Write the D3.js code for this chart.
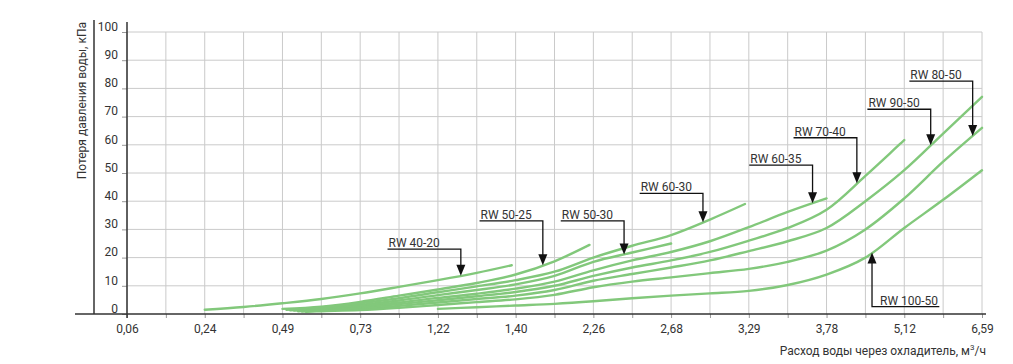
<!DOCTYPE html>
<html>
<head>
<meta charset="utf-8">
<script src="https://cdn.jsdelivr.net/npm/d3@7"></script>
<style>
    body { margin: 0; background: #fff; }
    text { font-family: Roboto, 'Open Sans', sans-serif; fill: #333; }
</style>
</head>
<body>
<div id="chart"></div>
<script>
// x positions are the slots of the (non-linear) flow axis: 0 = "0,06" ... 22 = "6,59"
const xTickLabels = ['0,06', '0,24', '0,49', '0,73', '1,22', '1,40', '2,26', '2,68', '3,29', '3,78', '5,12', '6,59'];
const yTicks = [0, 10, 20, 30, 40, 50, 60, 70, 80, 90, 100];

const rw4020 = [[2, 1.5], [3, 2.5], [4, 3.8], [5, 5.3], [6, 7.3], [7, 9.6], [8, 12], [9, 14.6], [9.9, 17.3]];
const rw5025 = [[4, 1.8], [5, 2.6], [6, 4.3], [7, 6.5], [8, 8.7], [9, 11], [10, 14], [11, 18.7], [11.9, 24.5]];
const rw5030 = [[4.2, 1.3], [5, 2], [6, 3.2], [7, 4.8], [8, 6.7], [9, 8.5], [10, 10.5], [11, 13.5], [12, 18.5], [13, 21.8], [14, 25]];
const rw6030 = [[4.1, 1.5], [5, 2.3], [6, 3.8], [7, 5.6], [8, 7.7], [9, 9.8], [10, 12], [11, 15], [12, 20], [13, 24.2], [14, 28], [15, 33.5], [15.9, 39]];
const rw6035 = [[4.3, 1.2], [5, 1.8], [6, 2.8], [7, 4.1], [8, 5.7], [9, 7.2], [10, 9], [11, 11.5], [12, 15.5], [13, 19], [14, 22], [15, 25.8], [16, 30.8], [17, 36.2], [18, 41]];
const rw7040 = [[4.4, 1], [5, 1.4], [6, 2.3], [7, 3.5], [8, 4.9], [9, 6.3], [10, 7.8], [11, 10], [12, 13.5], [13, 16.5], [14, 19], [15, 22], [16, 26], [17, 30.5], [18, 37], [19, 49], [20, 61.7]];
const rw9050 = [[4.5, 0.9], [5, 1.2], [6, 1.9], [7, 2.9], [8, 4.1], [9, 5.3], [10, 6.5], [11, 8.5], [12, 11.8], [13, 14.2], [14, 16.5], [15, 19], [16, 22.3], [17, 25.8], [18, 30.5], [19, 40], [20, 51], [21, 64], [22, 77]];
const rw8050 = [[4.6, 0.8], [5, 1], [6, 1.4], [7, 2.2], [8, 3.2], [9, 4.2], [10, 5.2], [11, 6.8], [12, 9.5], [13, 11.5], [14, 13], [15, 14.5], [16, 16], [17, 18.5], [18, 22.5], [19, 30], [20, 41], [21, 54], [22, 66]];
const rw10050 = [[8, 1.8], [9, 2.4], [10, 3], [11, 3.6], [12, 4.5], [13, 5.6], [14, 6.5], [15, 7.3], [16, 8.2], [17, 10.3], [18, 14], [19, 20], [20, 30.5], [21, 40.5], [22, 51]];

const seriesNames = ['RW 40-20', 'RW 50-25', 'RW 50-30', 'RW 60-30', 'RW 60-35', 'RW 70-40', 'RW 90-50', 'RW 80-50', 'RW 100-50'];
const seriesValues = [rw4020, rw5025, rw5030, rw6030, rw6035, rw7040, rw9050, rw8050, rw10050];

// where each arrow hits its curve (x slot) and the level of the label line (kPa)
const arrowAt = [8.59, 10.7, 12.79, 14.82, 17.64, 18.78, 20.68, 21.76, 19.17];
const labelLevel = [23, 33, 33, 42.8, 52.8, 62.5, 72.6, 82.6, 2.6];

const width = 1013, height = 364;
const green = '#82c87b';

const svg = d3.select('#chart')
    .append('svg')
    .attr('width', width)
    .attr('height', height);

const x = d3.scaleLinear().domain([0, 22]).range([127, 982]);
const y = d3.scaleLinear().domain([0, 100]).range([314, 32]);

// grid
svg.append('g')
    .selectAll('line')
    .data(d3.range(0, 23))
    .join('line')
    .attr('x1', d => x(d)).attr('x2', d => x(d))
    .attr('y1', y(0)).attr('y2', y(100))
    .attr('stroke', '#cacaca')
    .attr('stroke-width', 1);

svg.append('g')
    .selectAll('line')
    .data(yTicks.slice(1))
    .join('line')
    .attr('x1', x(0)).attr('x2', x(22))
    .attr('y1', d => y(d)).attr('y2', d => y(d))
    .attr('stroke', '#cacaca')
    .attr('stroke-width', 1);

// x axis
const xAxis = d3.axisBottom(x)
    .tickValues(d3.range(0, 23))
    .tickSize(4)
    .tickPadding(6)
    .tickFormat(d => (d % 2 === 0 ? xTickLabels[d / 2] : ''));

svg.append('g')
    .attr('class', 'x axis')
    .attr('transform', 'translate(0,' + y(0) + ')')
    .call(xAxis)
    .call(g => g.select('.domain').remove())
    .call(g => g.selectAll('.tick line').attr('stroke', '#999'))
    .selectAll('text')
    .style('font-size', '12px')
    .attr('fill', '#333');

// y axis
svg.append('g')
    .attr('class', 'y axis')
    .attr('transform', 'translate(' + x(0) + ',0)')
    .call(d3.axisLeft(y).tickValues(yTicks).tickSize(5).tickPadding(4))
    .call(g => g.select('.domain').remove())
    .call(g => g.selectAll('.tick line').attr('stroke', '#999'))
    .selectAll('text')
    .attr('dy', '-0.15em')
    .style('font-size', '12px')
    .attr('fill', '#333');

// frame lines
svg.append('line')
    .attr('x1', 75).attr('x2', 986)
    .attr('y1', y(0)).attr('y2', y(0))
    .attr('stroke', '#333').attr('stroke-width', 1.5);
svg.append('line')
    .attr('x1', x(0)).attr('x2', x(0))
    .attr('y1', 22).attr('y2', y(0) + 4)
    .attr('stroke', '#333').attr('stroke-width', 1.5);
svg.append('line')
    .attr('x1', 94).attr('x2', 94)
    .attr('y1', 20).attr('y2', y(0))
    .attr('stroke', '#333').attr('stroke-width', 1.5);

// axis titles
svg.append('text')
    .attr('transform', 'translate(86,22) rotate(-90)')
    .attr('text-anchor', 'end')
    .style('font-size', '12px')
    .text('Потеря давления воды, кПа');

const xTitle = svg.append('text')
    .attr('x', 986)
    .attr('y', 355)
    .attr('text-anchor', 'end')
    .style('font-size', '12px');
xTitle.append('tspan').text('Расход воды через охладитель, м');
xTitle.append('tspan').attr('dy', -5).style('font-size', '8px').text('3');
xTitle.append('tspan').attr('dy', 5).text('/ч');

// curves
const line = d3.line()
    .x(d => x(d[0]))
    .y(d => y(d[1]))
    .curve(d3.curveCatmullRom.alpha(0.5));

svg.append('g')
    .selectAll('path')
    .data(seriesValues)
    .join('path')
    .attr('fill', 'none')
    .attr('stroke', green)
    .attr('stroke-width', 2.4)
    .attr('stroke-linecap', 'round')
    .attr('d', line);

// value on a curve at slot xi (linear between points)
function valueAt(points, xi) {
    for (let i = 1; i < points.length; i++) {
        if (xi <= points[i][0]) {
            const a = points[i - 1], b = points[i];
            return a[1] + (b[1] - a[1]) * (xi - a[0]) / (b[0] - a[0]);
        }
    }
    return points[points.length - 1][1];
}

// labels with leader arrows
const notes = svg.append('g');
seriesNames.forEach((name, i) => {
    const tx = x(arrowAt[i]);
    const ty = y(valueAt(seriesValues[i], arrowAt[i]));
    const ly = y(labelLevel[i]);
    const labelAbove = ly < ty;

    if (labelAbove) {
        const gap = i === 0 ? 21 : 11;
        const t = notes.append('text')
            .attr('x', tx - gap)
            .attr('y', ly - 2)
            .attr('text-anchor', 'end')
            .style('font-size', '12px')
            .text(name);
        const bb = t.node().getBBox();
        notes.append('path')
            .attr('d', 'M' + (bb.x - 1) + ',' + ly + 'H' + tx + 'V' + (ty - 10))
            .attr('fill', 'none').attr('stroke', '#111').attr('stroke-width', 1.3);
        notes.append('path')
            .attr('d', 'M' + (tx - 4.5) + ',' + (ty - 11) + 'L' + (tx + 4.5) + ',' + (ty - 11) + 'L' + tx + ',' + ty + 'Z')
            .attr('fill', '#111');
    } else {
        const t = notes.append('text')
            .attr('x', tx + 8)
            .attr('y', ly - 2)
            .style('font-size', '12px')
            .text(name);
        const bb = t.node().getBBox();
        notes.append('path')
            .attr('d', 'M' + (bb.x + bb.width + 1) + ',' + ly + 'H' + tx + 'V' + (ty + 10))
            .attr('fill', 'none').attr('stroke', '#111').attr('stroke-width', 1.3);
        notes.append('path')
            .attr('d', 'M' + (tx - 4.5) + ',' + (ty + 11) + 'L' + (tx + 4.5) + ',' + (ty + 11) + 'L' + tx + ',' + ty + 'Z')
            .attr('fill', '#111');
    }
});
</script>
</body>
</html>
